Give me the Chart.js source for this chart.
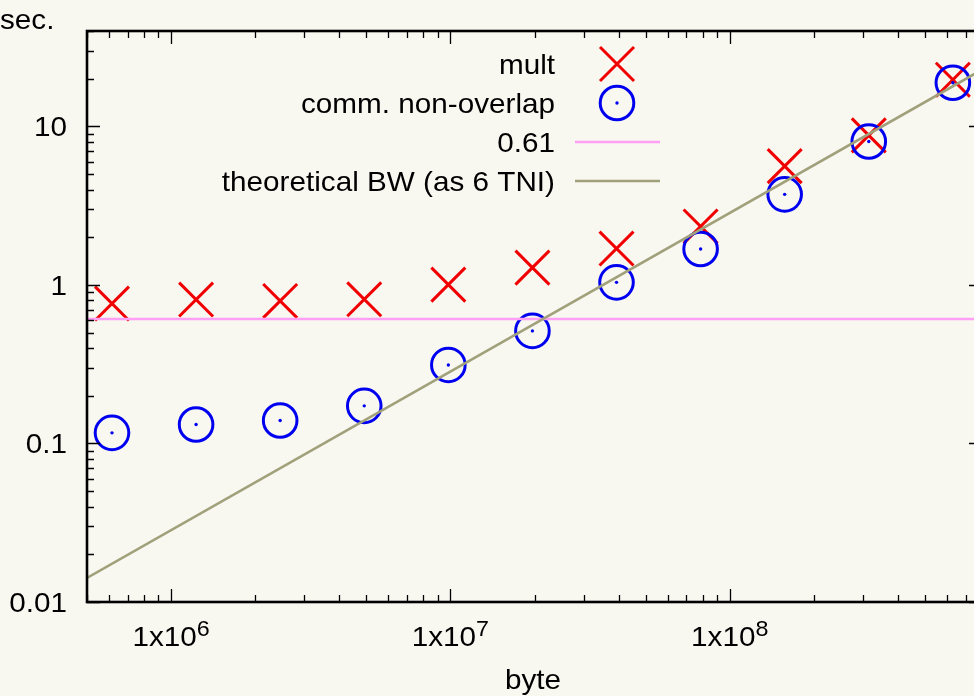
<!DOCTYPE html>
<html>
<head>
<meta charset="utf-8">
<script src="https://cdn.jsdelivr.net/npm/chart.js@4/dist/chart.umd.min.js"></script>
<style>
  html, body { margin: 0; padding: 0; background: #f8f7f0; overflow: hidden; width: 974px; height: 696px; }
  /* the frame's right edge sits a few pixels past the page edge */
  #c { position: absolute; left: 0; top: 0; display: block; width: 984px; height: 696px; }
</style>
</head>
<body>
<canvas id="c" width="984" height="696"></canvas>
<script>
// Message size in bytes for each run
const messageSizes = [614400, 1228800, 2457600, 4915200, 9830400, 19660800, 39321600, 78643200, 157286400, 314572800, 629145600];
// Elapsed seconds: multiplication total and non-overlapped communication
const multTimes = [0.763, 0.809, 0.793, 0.812, 1.005, 1.286, 1.696, 2.34, 5.62, 8.78, 19.7];
const commTimes = [0.1167, 0.1318, 0.1397, 0.1727, 0.313, 0.513, 1.039, 1.686, 3.73, 8.04, 18.86];
// Constant reference level
const flatLevel = 0.61;
// Theoretical bandwidth line end points (bytes, seconds)
const bwLineX = [5e5, 8e8];
const bwLineY = [0.0142, 22.8];
// Axis ranges and labelled ticks
const xRange = [5e5, 8e8];
const yRange = [0.01, 40];
const xTickValues = [1e6, 1e7, 1e8];
const xTickExponents = ['6', '7', '8'];
const yTickValues = [0.01, 0.1, 1, 10];
const yTickLabels = ['0.01', '0.1', '1', '10'];
const legendLabels = ['mult', 'comm. non-overlap', '0.61', 'theoretical BW (as 6 TNI)'];

const FONT = '"Liberation Sans", Arial, Helvetica, sans-serif';
const FS = 28;
const SX = 1.06;
const BG = '#f8f7f0';
const RED = '#f00000';
const BLUE = '#0000f0';
const PINK = '#ffa0f6';
const OLIVE = '#a0a07a';

function text(ctx, s, x, y, align, size) {
  ctx.save();
  ctx.font = (size || FS) + 'px ' + FONT;
  ctx.fillStyle = '#000';
  ctx.textBaseline = 'alphabetic';
  ctx.translate(x, y);
  ctx.scale(SX, 1);
  ctx.textAlign = align;
  ctx.fillText(s, 0, 0);
  ctx.restore();
}
function textWidth(ctx, s, size) {
  ctx.save();
  ctx.font = (size || FS) + 'px ' + FONT;
  const w = ctx.measureText(s).width * SX;
  ctx.restore();
  return w;
}

const background = {
  id: 'background',
  beforeDraw(chart) {
    const ctx = chart.ctx;
    ctx.save();
    ctx.fillStyle = BG;
    ctx.fillRect(0, 0, chart.width, chart.height);
    ctx.restore();
  }
};

// small centre dot inside each circle marker
const centreDots = {
  id: 'centreDots',
  afterDatasetsDraw(chart) {
    const ctx = chart.ctx;
    const meta = chart.getDatasetMeta(1);
    ctx.save();
    ctx.fillStyle = BLUE;
    meta.data.forEach(p => {
      ctx.beginPath();
      ctx.arc(p.x, p.y, 1.7, 0, Math.PI * 2);
      ctx.fill();
    });
    ctx.restore();
  }
};

function logTicks(min, max) {
  const out = [];
  for (let d = Math.floor(Math.log10(min)); d <= Math.ceil(Math.log10(max)); d++) {
    for (let m = 1; m <= 9; m++) {
      const v = m * Math.pow(10, d);
      if (v >= min * 0.999 && v <= max * 1.001) out.push({ v, major: m === 1 });
    }
  }
  return out;
}

const frame = {
  id: 'frame',
  afterDraw(chart) {
    const ctx = chart.ctx;
    const a = chart.chartArea;
    const xs = chart.scales.x, ys = chart.scales.y;
    ctx.save();
    ctx.strokeStyle = '#000';
    ctx.lineWidth = 1.3;
    ctx.beginPath();
    logTicks(xRange[0], xRange[1]).forEach(t => {
      const px = Math.round(xs.getPixelForValue(t.v)) + 0.5;
      const len = t.major ? 13 : 7;
      ctx.moveTo(px, a.bottom); ctx.lineTo(px, a.bottom - len);
      ctx.moveTo(px, a.top); ctx.lineTo(px, a.top + len);
    });
    logTicks(yRange[0], yRange[1]).forEach(t => {
      const py = Math.round(ys.getPixelForValue(t.v)) + 0.5;
      const len = t.major ? 13 : 7;
      ctx.moveTo(a.left, py); ctx.lineTo(a.left + len, py);
      ctx.moveTo(a.right, py); ctx.lineTo(a.right - len, py);
    });
    ctx.stroke();
    ctx.lineWidth = 2.6;
    ctx.strokeRect(a.left, a.top, a.right - a.left, a.bottom - a.top);
    ctx.restore();

    // y tick labels
    yTickValues.forEach((v, i) => {
      const py = ys.getPixelForValue(v);
      text(ctx, yTickLabels[i], 67, py + 10, 'right');
    });
    // x tick labels with superscript exponent
    const supFS = Math.round(FS * 0.8);
    xTickValues.forEach((v, i) => {
      const px = xs.getPixelForValue(v);
      const w1 = textWidth(ctx, '1x10');
      const w2 = textWidth(ctx, xTickExponents[i], supFS);
      const x0 = px - (w1 + w2) / 2;
      text(ctx, '1x10', x0, 646, 'left');
      text(ctx, xTickExponents[i], x0 + w1, 636, 'left', supFS);
    });
    // axis titles
    text(ctx, 'sec.', 0, 29, 'left');
    text(ctx, 'byte', 533, 689, 'center');

    // key
    const keyTextRight = 555;
    const keySymX = 617;
    const rows = [64, 103, 142, 181];
    legendLabels.forEach((s, i) => text(ctx, s, keyTextRight, rows[i] + 10, 'right'));
    ctx.save();
    ctx.lineCap = 'butt';
    ctx.strokeStyle = RED; ctx.lineWidth = 3;
    ctx.beginPath();
    ctx.moveTo(keySymX - 17, rows[0] - 17); ctx.lineTo(keySymX + 17, rows[0] + 17);
    ctx.moveTo(keySymX + 17, rows[0] - 17); ctx.lineTo(keySymX - 17, rows[0] + 17);
    ctx.stroke();
    ctx.strokeStyle = BLUE; ctx.lineWidth = 3;
    ctx.beginPath(); ctx.arc(keySymX, rows[1], 16.8, 0, Math.PI * 2); ctx.stroke();
    ctx.fillStyle = BLUE;
    ctx.beginPath(); ctx.arc(keySymX, rows[1], 1.7, 0, Math.PI * 2); ctx.fill();
    ctx.lineWidth = 2.5;
    ctx.strokeStyle = PINK;
    ctx.beginPath(); ctx.moveTo(575, rows[2]); ctx.lineTo(660, rows[2]); ctx.stroke();
    ctx.strokeStyle = OLIVE;
    ctx.beginPath(); ctx.moveTo(575, rows[3]); ctx.lineTo(660, rows[3]); ctx.stroke();
    ctx.restore();
  }
};

const pts = (xsArr, ysArr) => xsArr.map((x, i) => ({ x, y: ysArr[i] }));

new Chart(document.getElementById('c'), {
  type: 'scatter',
  data: {
    datasets: [
      {
        label: legendLabels[0],
        data: pts(messageSizes, multTimes),
        pointStyle: 'crossRot',
        pointRadius: 24,
        pointBorderWidth: 3,
        borderColor: RED,
        backgroundColor: RED,
        showLine: false,
        order: 4
      },
      {
        label: legendLabels[1],
        data: pts(messageSizes, commTimes),
        pointStyle: 'circle',
        pointRadius: 16.8,
        pointBorderWidth: 3,
        borderColor: BLUE,
        backgroundColor: 'rgba(0,0,0,0)',
        showLine: false,
        order: 3
      },
      {
        label: legendLabels[2],
        data: pts(xRange, [flatLevel, flatLevel]),
        showLine: true,
        pointRadius: 0,
        borderColor: PINK,
        borderWidth: 2.5,
        order: 2
      },
      {
        label: legendLabels[3],
        data: pts(bwLineX, bwLineY),
        showLine: true,
        pointRadius: 0,
        borderColor: OLIVE,
        borderWidth: 2.5,
        order: 1
      }
    ]
  },
  options: {
    responsive: false,
    animation: false,
    devicePixelRatio: 1,
    layout: { autoPadding: false, padding: { left: 87, top: 31, right: 2, bottom: 94 } },
    plugins: { legend: { display: false }, tooltip: { enabled: false } },
    scales: {
      x: { type: 'logarithmic', min: xRange[0], max: xRange[1], display: false },
      y: { type: 'logarithmic', min: yRange[0], max: yRange[1], display: false }
    }
  },
  plugins: [background, centreDots, frame]
});
</script>
</body>
</html>
